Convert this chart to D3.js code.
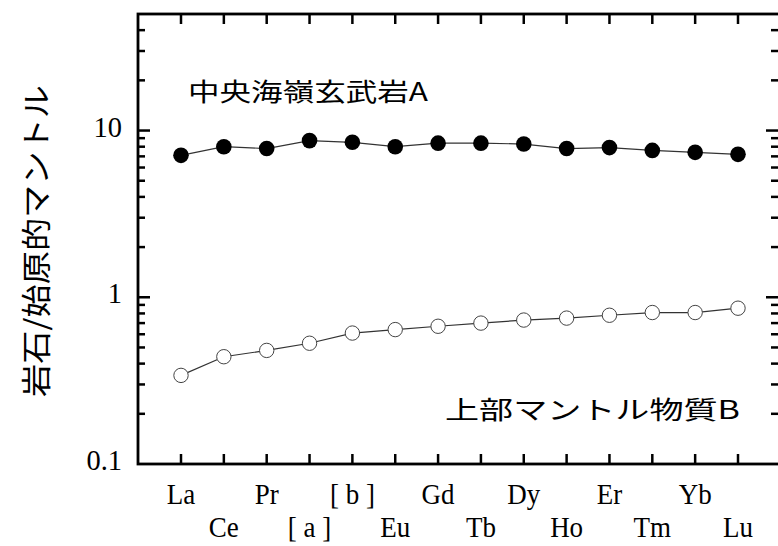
<!DOCTYPE html>
<html>
<head>
<meta charset="utf-8">
<script src="https://cdn.jsdelivr.net/npm/d3@7"></script>
<style>
  body { margin: 0; background: #fff; }
  svg { display: block; }
</style>
</head>
<body>
<div id="container"></div>
<script>
var width = 778;
var height = 546;

// data
var elements = ["La", "Ce", "Pr", "[ a ]", "[ b ]", "Eu", "Gd", "Tb", "Dy", "Ho", "Er", "Tm", "Yb", "Lu"];
var basaltA = [7.1, 8.0, 7.8, 8.7, 8.5, 8.0, 8.4, 8.4, 8.3, 7.8, 7.9, 7.6, 7.4, 7.2];
var mantleB = [0.34, 0.44, 0.48, 0.53, 0.61, 0.64, 0.67, 0.70, 0.73, 0.75, 0.78, 0.81, 0.81, 0.86];
var yTickLabels = [0.1, 1, 10];
var minorTicks = [0.2, 0.3, 0.4, 0.5, 0.6, 0.7, 0.8, 0.9, 2, 3, 4, 5, 6, 7, 8, 9, 20, 30, 40];

var frame = { left: 138, right: 780, top: 14, bottom: 464 };

var svg = d3.select("div#container")
  .append("svg")
  .attr("width", width)
  .attr("height", height);

var x = d3.scaleLinear()
  .domain([0, elements.length - 1])
  .range([181, 738]);

var y = d3.scaleLog()
  .domain([0.1, 50])
  .range([frame.bottom, frame.top]);

// ticks along frame
var tk = svg.append("g").attr("stroke", "#000").attr("stroke-width", 2.5);
elements.forEach(function (d, i) {
  tk.append("line").attr("x1", x(i)).attr("x2", x(i)).attr("y1", frame.top).attr("y2", frame.top + 10);
  tk.append("line").attr("x1", x(i)).attr("x2", x(i)).attr("y1", frame.bottom).attr("y2", frame.bottom - 10);
});
[1, 10].forEach(function (v) {
  tk.append("line").attr("x1", frame.left).attr("x2", frame.left + 12).attr("y1", y(v)).attr("y2", y(v));
  tk.append("line").attr("x1", 778).attr("x2", 778 - 12).attr("y1", y(v)).attr("y2", y(v));
});
minorTicks.forEach(function (v) {
  tk.append("line").attr("x1", frame.left).attr("x2", frame.left + 7).attr("y1", y(v)).attr("y2", y(v));
  tk.append("line").attr("x1", 778).attr("x2", 778 - 7).attr("y1", y(v)).attr("y2", y(v));
});

// frame
svg.append("rect")
  .attr("x", frame.left).attr("y", frame.top)
  .attr("width", frame.right - frame.left).attr("height", frame.bottom - frame.top)
  .attr("fill", "none").attr("stroke", "#000").attr("stroke-width", 2.8);

// y tick labels
svg.append("g").selectAll("text")
  .data(yTickLabels)
  .enter().append("text")
  .attr("transform", function (d) { return "translate(122," + (y(d) + 6) + ") scale(0.95,1)"; })
  .attr("text-anchor", "end")
  .attr("font-family", "Liberation Serif")
  .attr("font-size", 30)
  .text(function (d) { return d; });

// x labels (two rows)
svg.append("g").selectAll("text")
  .data(elements)
  .enter().append("text")
  .attr("transform", function (d, i) {
    return "translate(" + x(i) + "," + (i % 2 === 0 ? 504 : 537) + ") scale(0.9,1)";
  })
  .attr("text-anchor", "middle")
  .attr("font-family", "Liberation Serif")
  .attr("font-size", 30)
  .text(function (d) { return d; });

// lines + markers
var line = d3.line()
  .x(function (d, i) { return x(i); })
  .y(function (d) { return y(d); });

svg.append("path").datum(mantleB)
  .attr("d", line).attr("fill", "none").attr("stroke", "#333").attr("stroke-width", 1.2);
svg.append("path").datum(basaltA)
  .attr("d", line).attr("fill", "none").attr("stroke", "#333").attr("stroke-width", 1.2);

svg.append("g").selectAll("circle")
  .data(basaltA)
  .enter().append("circle")
  .attr("cx", function (d, i) { return x(i); })
  .attr("cy", function (d) { return y(d); })
  .attr("r", 7.8)
  .attr("fill", "#000");

svg.append("g").selectAll("circle")
  .data(mantleB)
  .enter().append("circle")
  .attr("cx", function (d, i) { return x(i); })
  .attr("cy", function (d) { return y(d); })
  .attr("r", 7.2)
  .attr("fill", "#fff")
  .attr("stroke", "#444")
  .attr("stroke-width", 1);

// series labels
svg.append("text")
  .attr("x", 188).attr("y", 101)
  .attr("font-family", "Noto Sans CJK JP")
  .attr("font-size", 25)
  .attr("textLength", 240)
  .attr("lengthAdjust", "spacingAndGlyphs")
  .text("中央海嶺玄武岩A");

svg.append("text")
  .attr("x", 445).attr("y", 419)
  .attr("font-family", "Noto Sans CJK JP")
  .attr("font-size", 25)
  .attr("textLength", 295)
  .attr("lengthAdjust", "spacingAndGlyphs")
  .text("上部マントル物質B");

// y axis title
svg.append("text")
  .attr("transform", "translate(47,241) rotate(-90)")
  .attr("text-anchor", "middle")
  .attr("font-family", "Noto Sans CJK JP")
  .attr("font-size", 30)
  .attr("textLength", 312)
  .attr("lengthAdjust", "spacingAndGlyphs")
  .text("岩石/始原的マントル");
</script>
</body>
</html>
